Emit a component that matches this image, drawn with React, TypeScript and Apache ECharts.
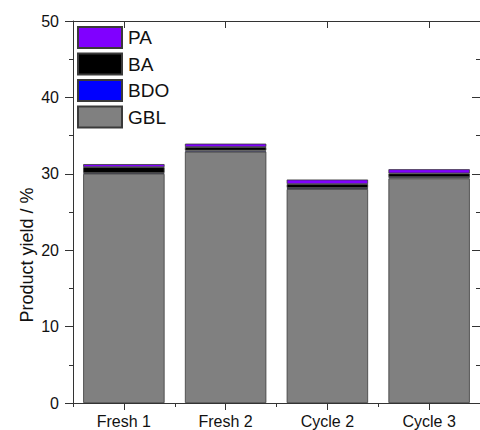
import React, { useEffect, useRef } from "react";
import * as echarts from "echarts";

const categories = ["Fresh 1", "Fresh 2", "Cycle 2", "Cycle 3"];
const gbl = [30.0, 32.9, 28.0, 29.4];
const bdo = [0.12, 0.15, 0.15, 0.15];
const ba = [0.75, 0.45, 0.5, 0.5];
const pa = [0.4, 0.45, 0.6, 0.55];
const yTicks = { min: 0, max: 50, interval: 10 };
const yTitle = "Product yield / %";

const FONT = "Liberation Sans, Arial, sans-serif";
const AXIS_COLOR = "#333";

export default function App() {
  const ref = useRef<HTMLDivElement>(null);
  useEffect(() => {
    if (!ref.current) return;
    const chart = echarts.init(ref.current, undefined, { renderer: "svg" });
    const mk = (name: string, data: number[], color: string) => ({
      name,
      type: "bar",
      stack: "total",
      data,
      barCategoryGap: "20%",
      itemStyle: { color, borderColor: "#3a3a3a", borderWidth: 0.8 },
      emphasis: { disabled: true },
    });
    chart.setOption({
      animation: false,
      backgroundColor: "#fff",
      textStyle: { fontFamily: FONT },
      grid: { left: 73, top: 21, width: 412, height: 382, containLabel: false },
      legend: {
        data: ["PA", "BA", "BDO", "GBL"],
        orient: "vertical",
        left: 77,
        top: 26,
        padding: 0,
        itemWidth: 44,
        itemHeight: 21,
        itemGap: 3.5,
        icon: "rect",
        textStyle: { fontSize: 19, color: "#111", fontFamily: FONT, padding: [0, 0, 0, 1] },
        selectedMode: false,
      },
      graphic: [
        {
          type: "text",
          x: 27,
          y: 255,
          rotation: Math.PI / 2,
          style: {
            text: yTitle,
            fontSize: 18,
            fontFamily: FONT,
            fill: "#111",
            textAlign: "center",
            textVerticalAlign: "middle",
          },
        },
      ],
      xAxis: [
        {
          type: "category",
          data: categories,
          position: "bottom",
          axisLine: { show: true, lineStyle: { color: AXIS_COLOR, width: 1 } },
          axisTick: { show: true, alignWithLabel: true, length: 7, inside: false, lineStyle: { color: AXIS_COLOR } },
          axisLabel: { fontSize: 16, color: "#111", margin: 10, fontFamily: FONT },
          splitLine: { show: false },
        },
        {
          type: "category",
          data: categories,
          position: "bottom",
          axisLine: { show: false },
          axisTick: { show: true, alignWithLabel: false, length: 4, inside: false, lineStyle: { color: AXIS_COLOR } },
          axisLabel: { show: false },
          splitLine: { show: false },
        },
        {
          type: "category",
          data: categories,
          position: "top",
          axisLine: { show: true, lineStyle: { color: AXIS_COLOR, width: 1 } },
          axisTick: { show: true, alignWithLabel: true, length: 7, inside: true, lineStyle: { color: AXIS_COLOR } },
          axisLabel: { show: false },
          splitLine: { show: false },
        },
      ],
      yAxis: [
        {
          type: "value",
          min: yTicks.min,
          max: yTicks.max,
          interval: yTicks.interval,
          axisLine: { show: true, lineStyle: { color: AXIS_COLOR, width: 1 } },
          axisTick: { show: true, length: 8, inside: false, lineStyle: { color: AXIS_COLOR } },
          minorTick: { show: true, splitNumber: 2, length: 4, lineStyle: { color: AXIS_COLOR } },
          axisLabel: { fontSize: 16, color: "#111", margin: 14, fontFamily: FONT },
          splitLine: { show: false },
        },
        {
          type: "value",
          min: yTicks.min,
          max: yTicks.max,
          interval: yTicks.interval,
          position: "right",
          axisLine: { show: true, lineStyle: { color: AXIS_COLOR, width: 1 } },
          axisTick: { show: true, length: 8, inside: true, lineStyle: { color: AXIS_COLOR } },
          minorTick: { show: true, splitNumber: 2, length: 4, lineStyle: { color: AXIS_COLOR } },
          axisLabel: { show: false },
          splitLine: { show: false },
        },
      ],
      series: [
        mk("GBL", gbl, "#808080"),
        mk("BDO", bdo, "#0000ff"),
        mk("BA", ba, "#000000"),
        mk("PA", pa, "#8000ff"),
      ],
    });
    return () => chart.dispose();
  }, []);
  return (
    <div
      ref={ref}
      style={{ position: "fixed", left: 0, top: 0, width: 480, height: 430 }}
    />
  );
}
